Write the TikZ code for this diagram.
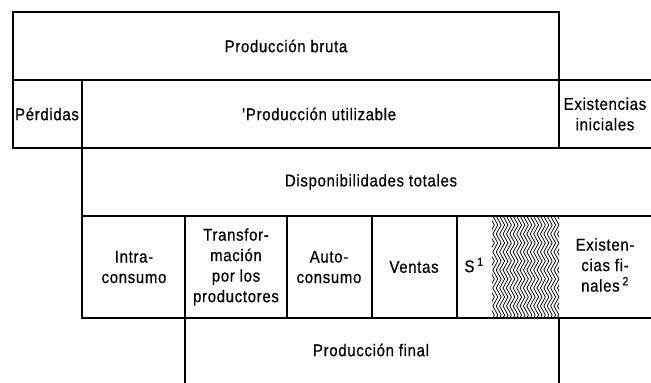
\documentclass[tikz,border=0pt]{standalone}
\usepackage{fontspec}
\setmainfont{Liberation Sans}[FakeStretch=0.88,FakeBold=0.6,LetterSpace=4]
\begin{document}
\begin{tikzpicture}[x=1pt,y=-1pt,
  rule/.style={line width=1.1pt,line cap=rect},
  lbl/.style={font=\fontsize{17}{20.5}\selectfont,align=center,inner sep=0pt},
  hatchline/.style={line width=0.75pt}]
\useasboundingbox (0,0) rectangle (651,383);
% hatched block
\begin{scope}
\clip (492,216) rectangle (559,318);
\foreach \k in {0,...,11}{
  \pgfmathsetmacro{\ya}{216+9*\k}
  \pgfmathsetmacro{\yb}{216+9*(\k+1)}
  \foreach \xx in {486,489.4,...,562}{
    \ifodd\k
      \draw[hatchline] (\xx,\yb) -- (\xx+5,\ya);
    \else
      \draw[hatchline] (\xx,\ya) -- (\xx+5,\yb);
    \fi
  }
}
\end{scope}
% rules
\draw[rule] (13,12) rectangle (559,80);
\draw[rule] (13,80) -- (651,80);
\draw[rule] (13,80) -- (13,148);
\draw[rule] (82,80) -- (82,318);
\draw[rule] (559,80) -- (559,148);
\draw[rule] (13,148) -- (651,148);
\draw[rule] (82,216) -- (651,216);
\draw[rule] (82,318) -- (651,318);
\draw[rule] (185,216) -- (185,383);
\draw[rule] (287,216) -- (287,318);
\draw[rule] (372,216) -- (372,318);
\draw[rule] (457,216) -- (457,318);
\draw[rule] (559,318) -- (559,383);
% labels
\node[lbl] (bruta) at (286,46) {Producción bruta};
\node[lbl] (perd) at (47,114) {Pérdidas};
\node[lbl] (util) at (319,114) {'Producción utilizable};
\node[lbl] (exini) at (605,114) {Existencias\\iniciales};
\node[lbl] (disp) at (371,182) {Disponibilidades totales};
\node[lbl] (intra) at (134,267) {Intra-\\consumo};
\node[lbl] (transf) at (236,267) {Transfor-\\mación\\por los\\productores};
\node[lbl] (auto) at (329,267) {Auto-\\consumo};
\node[lbl] (ventas) at (414,267) {Ventas};
\node[lbl] (s) at (474,265) {S\,\textsuperscript{1}};
\node[lbl] (exfin) at (605,265) {Existen-\\cias fi-\\nales\,\textsuperscript{2}};
\node[lbl] (final) at (371,350) {Producción final};
\end{tikzpicture}
\end{document}
